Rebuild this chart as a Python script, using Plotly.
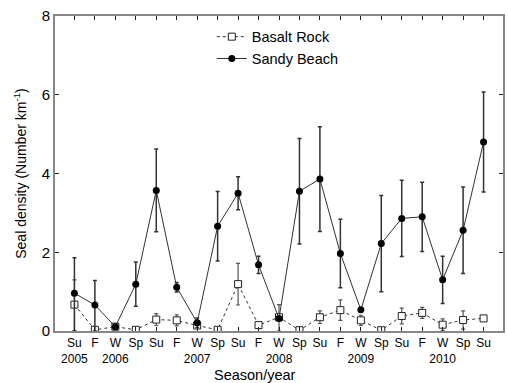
import plotly.graph_objects as go

seasons = ["Su", "F", "W", "Sp", "Su", "F", "W", "Sp", "Su", "F", "W", "Sp",
           "Su", "F", "W", "Sp", "Su", "F", "W", "Sp", "Su"]
year_labels = {0: "2005", 2: "2006", 6: "2007", 10: "2008", 14: "2009", 18: "2010"}

sandy = [0.96, 0.66, 0.11, 1.19, 3.57, 1.11, 0.21, 2.66, 3.50, 1.68, 0.32,
         3.55, 3.86, 1.97, 0.54, 2.22, 2.86, 2.90, 1.30, 2.56, 4.80]
sandy_err = [0.90, 0.62, 0.05, 0.56, 1.05, 0.12, 0.12, 0.88, 0.42, 0.22, 0.05,
             1.34, 1.33, 0.87, 0.05, 1.22, 0.97, 0.88, 0.60, 1.10, 1.27]
sandy_err_minus = [0.96, 0.66, 0.05, 0.56, 1.05, 0.12, 0.12, 0.88, 0.42, 0.22, 0.05,
                   1.34, 1.33, 0.87, 0.05, 1.22, 0.97, 0.88, 0.60, 1.10, 1.27]

basalt = [0.67, 0.03, 0.11, 0.03, 0.29, 0.27, 0.14, 0.03, 1.19, 0.15, 0.35,
          0.02, 0.35, 0.53, 0.27, 0.02, 0.38, 0.46, 0.16, 0.28, 0.32]
basalt_err = [0.63, 0.02, 0.04, 0.02, 0.15, 0.14, 0.06, 0.02, 0.53, 0.05, 0.32,
              0.01, 0.16, 0.26, 0.13, 0.01, 0.20, 0.14, 0.15, 0.23, 0.03]
basalt_err_minus = [0.67, 0.02, 0.04, 0.02, 0.15, 0.14, 0.06, 0.02, 0.53, 0.05, 0.35,
                    0.01, 0.16, 0.26, 0.13, 0.01, 0.20, 0.14, 0.15, 0.23, 0.03]

x = list(range(len(seasons)))
ticktext = [s + ("<br>" + year_labels[i] if i in year_labels else "") for i, s in enumerate(seasons)]

FONT = "Arial, Liberation Sans, sans-serif"

fig = go.Figure()
fig.add_trace(go.Scatter(
    x=x, y=basalt, name="Basalt Rock", mode="lines+markers",
    line=dict(color="#333333", width=1, dash="dot"),
    marker=dict(symbol="square", size=7, color="white", line=dict(color="#222222", width=1)),
    error_y=dict(type="data", array=basalt_err, arrayminus=basalt_err_minus, symmetric=False,
                 color="#555555", thickness=1.2, width=2),
))
fig.add_trace(go.Scatter(
    x=x, y=sandy, name="Sandy Beach", mode="lines+markers",
    line=dict(color="#333333", width=1),
    marker=dict(symbol="circle", size=7, color="black"),
    error_y=dict(type="data", array=sandy_err, arrayminus=sandy_err_minus, symmetric=False,
                 color="#333333", thickness=1.5, width=2),
))

fig.update_layout(
    width=508, height=383,
    margin=dict(l=55, r=3, t=16, b=52),
    paper_bgcolor="white", plot_bgcolor="white",
    font=dict(family=FONT, color="black"),
    showlegend=True,
    legend=dict(x=0.35, y=0.985, xanchor="left", yanchor="top",
                font=dict(size=14.5, family=FONT), bgcolor="rgba(0,0,0,0)",
                tracegroupgap=0, itemwidth=30),
    xaxis=dict(
        range=[-0.95, 20.95], tickmode="array", tickvals=x, ticktext=ticktext,
        tickangle=0,
        ticks="inside", ticklen=4, tickcolor="#222222", tickfont=dict(size=12),
        showline=True, linecolor="#888888", linewidth=2, mirror="ticks",
        showgrid=False, zeroline=False,
    ),
    yaxis=dict(
        range=[0, 8], tickvals=[0, 2, 4, 6, 8],
        ticks="inside", ticklen=4, tickcolor="#222222", tickfont=dict(size=15),
        showline=True, linecolor="#888888", linewidth=2, mirror="ticks",
        showgrid=False, zeroline=False,
        title=dict(text="Seal density (Number km<sup>-1</sup>)", font=dict(size=14), standoff=12),
    ),
    annotations=[dict(text="Season/year", xref="paper", yref="paper", x=0.447, y=-0.108,
                      xanchor="center", yanchor="top", showarrow=False,
                      font=dict(size=14.5, family=FONT))],
)

fig.write_html("out.html", config={"displayModeBar": False},
               post_script="document.body.style.margin='0';document.body.style.padding='0';")
